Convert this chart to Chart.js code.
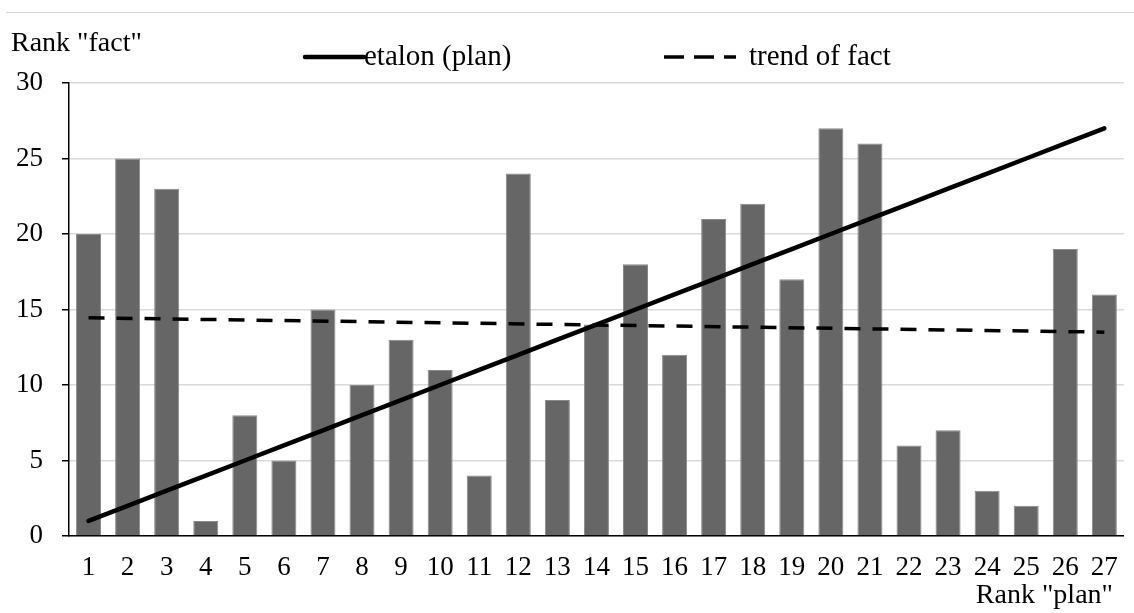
<!DOCTYPE html>
<html>
<head>
<meta charset="utf-8">
<script src="https://cdn.jsdelivr.net/npm/chart.js@4.4.0/dist/chart.umd.min.js"></script>
<style>
html,body{margin:0;padding:0;background:#fff;}
#wrap{position:relative;width:1134px;height:613px;}
#topline{position:absolute;left:6px;right:0;top:12px;height:0;border-top:1px solid #d9d9d9;}
canvas{position:absolute;left:0;top:0;}
</style>
</head>
<body>
<div id="wrap">
<canvas id="c" width="1134" height="613"></canvas>
<div id="topline"></div>
</div>
<script>
const categories = ['1','2','3','4','5','6','7','8','9','10','11','12','13','14','15','16','17','18','19','20','21','22','23','24','25','26','27'];
const factRanks = [20,25,23,1,8,5,15,10,13,11,4,24,9,14,18,12,21,22,17,27,26,6,7,3,2,19,16];
const etalonPlan = [1,2,3,4,5,6,7,8,9,10,11,12,13,14,15,16,17,18,19,20,21,22,23,24,25,26,27];
const trendOfFact = [14.45,null,null,null,null,null,null,null,null,null,null,null,null,null,null,null,null,null,null,null,null,null,null,null,null,null,13.5];
const yTicks = [0,5,10,15,20,25,30];
const yAxisTitle = 'Rank "fact"';
const xAxisTitle = 'Rank "plan"';
const legendLabels = ['etalon (plan)', 'trend of fact'];

const FONT = '"Liberation Serif", "Times New Roman", serif';

const extras = {
  id: 'extras',
  afterDraw(chart) {
    const ctx = chart.ctx;
    ctx.save();
    ctx.fillStyle = '#000';
    ctx.font = '28px ' + FONT;
    ctx.textBaseline = 'alphabetic';
    ctx.textAlign = 'left';
    ctx.fillText(yAxisTitle, 11, 51);
    ctx.textAlign = 'right';
    ctx.fillText(xAxisTitle, 1113, 603);
    // legend
    ctx.lineCap = 'round';
    ctx.strokeStyle = '#000';
    ctx.lineWidth = 4.5;
    ctx.setLineDash([]);
    ctx.beginPath(); ctx.moveTo(305, 57); ctx.lineTo(364, 57); ctx.stroke();
    ctx.lineCap = 'butt';
    ctx.lineWidth = 3.5;
    ctx.setLineDash([20, 10]);
    ctx.beginPath(); ctx.moveTo(664, 57); ctx.lineTo(736, 57); ctx.stroke();
    ctx.setLineDash([]);
    ctx.textAlign = 'left';
    ctx.font = '29px ' + FONT;
    ctx.fillText(legendLabels[0], 364, 65);
    ctx.fillText(legendLabels[1], 749, 65);
    ctx.restore();
  }
};

new Chart(document.getElementById('c'), {
  data: {
    labels: categories,
    datasets: [
      {
        type: 'line',
        label: legendLabels[0],
        data: etalonPlan,
        borderColor: '#000',
        borderWidth: 4.5,
        pointRadius: 0,
        borderCapStyle: 'round',
        tension: 0,
        order: 0
      },
      {
        type: 'line',
        label: legendLabels[1],
        data: trendOfFact,
        spanGaps: true,
        borderColor: '#000',
        borderWidth: 3.5,
        borderDash: [16, 12],
        pointRadius: 0,
        tension: 0,
        order: 1
      },
      {
        type: 'bar',
        label: 'fact',
        data: factRanks,
        backgroundColor: '#666666',
        borderColor: '#8a8a8a',
        borderWidth: 1,
        categoryPercentage: 1,
        barPercentage: 0.64,
        order: 2
      }
    ]
  },
  options: {
    responsive: false,
    animation: false,
    devicePixelRatio: 1,
    layout: { padding: { top: 83, right: 8, left: 0, bottom: 0 } },
    plugins: { legend: { display: false }, tooltip: { enabled: false }, title: { display: false } },
    scales: {
      x: {
        type: 'category',
        offset: true,
        grid: { display: true, drawOnChartArea: false, drawTicks: false, color: 'rgba(0,0,0,0)' },
        border: { display: true, color: '#000', width: 1.5 },
        ticks: { color: '#000', font: { family: FONT, size: 27 }, padding: 16, maxRotation: 0, minRotation: 0, autoSkip: false },
        afterFit(s) { s.height = 77; }
      },
      y: {
        min: 0,
        max: 30,
        afterBuildTicks(s) { s.ticks = yTicks.map(v => ({ value: v })); },
        grid: { color: '#d9d9d9', lineWidth: 1.5, tickColor: '#000', tickLength: 7, tickWidth: 1.5 },
        border: { display: true, color: '#000', width: 1.5 },
        ticks: { color: '#000', font: { family: FONT, size: 27 }, padding: 19 },
        afterFit(s) { s.width = 69; }
      }
    }
  },
  plugins: [extras]
});
</script>
</body>
</html>
